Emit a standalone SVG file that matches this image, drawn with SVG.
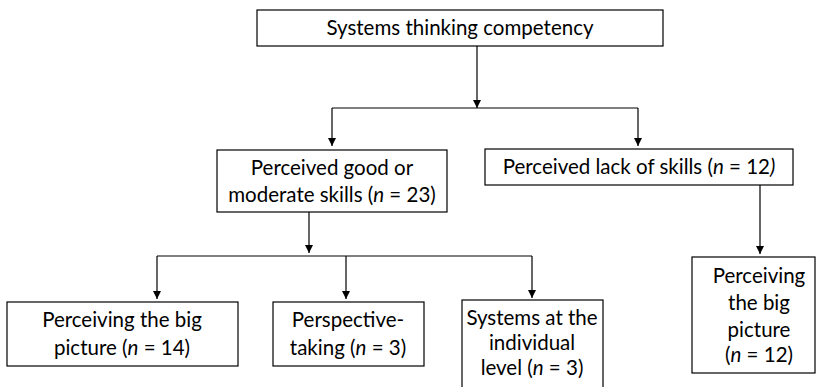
<svg xmlns="http://www.w3.org/2000/svg" width="817" height="387" viewBox="0 0 817 387">
<style>
.box{fill:#fff;stroke:#000;stroke-width:1.2}
.t{font-family:Lato,"Liberation Sans",sans-serif;font-size:20.5px;fill:#000;text-anchor:middle}
.c{fill:none;stroke:#000;stroke-width:1.2}
</style>
<defs>
<marker id="ah" viewBox="0 0 8 10" refX="8" refY="5" markerWidth="8" markerHeight="10" markerUnits="userSpaceOnUse" orient="auto">
<path d="M0,1 L8,5 L0,9 z" fill="#000"/>
</marker>
</defs>
<rect width="817" height="387" fill="#fff"/>
<g id="connectors">
<path class="c" d="M477,46 V108" marker-end="url(#ah)"/>
<path class="c" d="M332,108 H638"/>
<path class="c" d="M332,108 V146" marker-end="url(#ah)"/>
<path class="c" d="M638,108 V146" marker-end="url(#ah)"/>
<path class="c" d="M309,212 V253" marker-end="url(#ah)"/>
<path class="c" d="M157,256 H532"/>
<path class="c" d="M157,256 V299" marker-end="url(#ah)"/>
<path class="c" d="M346,256 V299" marker-end="url(#ah)"/>
<path class="c" d="M532,256 V298" marker-end="url(#ah)"/>
<path class="c" d="M760,185 V254" marker-end="url(#ah)"/>
</g>
<g id="n-root">
<rect class="box" x="257" y="10" width="406" height="36"/>
<text class="t" x="460" y="35">Systems thinking competency</text>
</g>
<g id="n-good">
<rect class="box" x="217" y="150" width="230" height="62"/>
<text class="t" x="332" y="175">Perceived good or</text>
<text class="t" x="332" y="202">moderate skills (<tspan font-style="italic">n</tspan> = 23)</text>
</g>
<g id="n-lack">
<rect class="box" x="485" y="149" width="308" height="36"/>
<text class="t" x="639" y="174">Perceived lack of skills (<tspan font-style="italic">n</tspan> = 12<tspan font-style="italic">)</tspan></text>
</g>
<g id="n-big1">
<rect class="box" x="7" y="302" width="231" height="64"/>
<text class="t" x="122" y="327">Perceiving the big</text>
<text class="t" x="122" y="355">picture (<tspan font-style="italic">n</tspan> = 14)</text>
</g>
<g id="n-persp">
<rect class="box" x="273" y="302" width="151" height="64"/>
<text class="t" x="348" y="327">Perspective-</text>
<text class="t" x="348" y="355">taking (<tspan font-style="italic">n</tspan> = 3)</text>
</g>
<g id="n-indiv">
<rect class="box" x="462" y="300" width="141" height="95"/>
<text class="t" x="532" y="325">Systems at the</text>
<text class="t" x="532" y="350">individual</text>
<text class="t" x="532" y="375">level (<tspan font-style="italic">n</tspan> = 3)</text>
</g>
<g id="n-big2">
<rect class="box" x="692" y="257" width="123" height="116"/>
<text class="t" x="759" y="283">Perceiving</text>
<text class="t" x="759" y="310">the big</text>
<text class="t" x="759" y="337">picture</text>
<text class="t" x="759" y="362">(<tspan font-style="italic">n</tspan> = 12)</text>
</g>
</svg>
